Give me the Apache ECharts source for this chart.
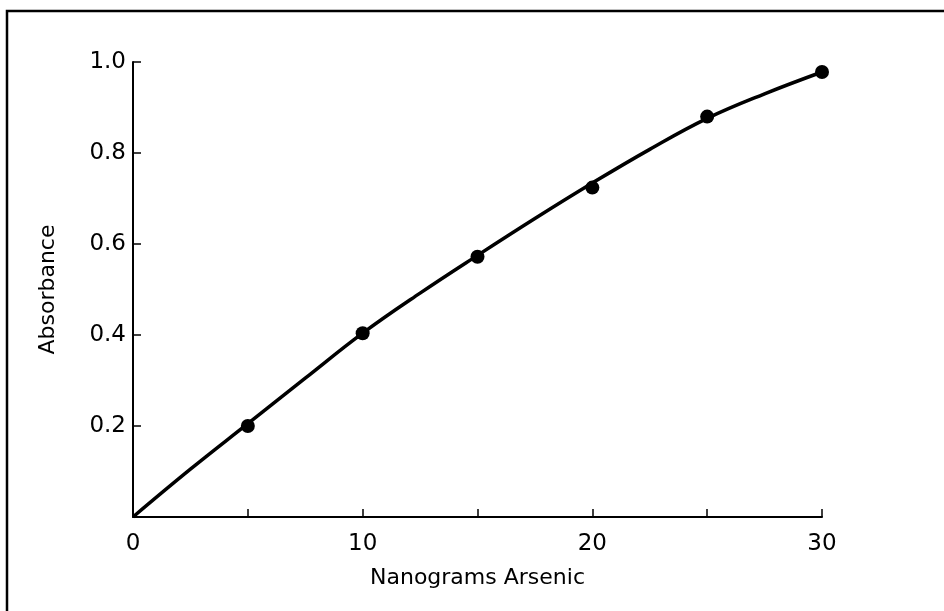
<!DOCTYPE html>
<html>
<head>
<meta charset="utf-8">
<script src="https://cdn.jsdelivr.net/npm/echarts@6/dist/echarts.min.js"></script>
<style>
html,body{margin:0;padding:0;background:#fff;}
#c{width:944px;height:611px;}
</style>
</head>
<body>
<div id="c"></div>
<script>
// Measured points (nanograms arsenic, absorbance)
const pointX = [5, 10, 15, 20, 25, 30];
const pointY = [0.200, 0.404, 0.572, 0.724, 0.880, 0.978];
// Fitted calibration curve
const curveX = [0, 2.5, 5, 7.5, 10, 12.5, 15, 17.5, 20, 22.5, 25, 27.5, 30];
const curveY = [0, 0.105, 0.205, 0.305, 0.404, 0.492, 0.575, 0.656, 0.734, 0.808, 0.876, 0.930, 0.978];
const xTicks = [0, 10, 20, 30];
const yTicks = [0.2, 0.4, 0.6, 0.8, 1.0];
const xName = 'Nanograms Arsenic';
const yName = 'Absorbance';

const font = 'DejaVu Sans';
const chart = echarts.init(document.getElementById('c'));
chart.setOption({
  animation: false,
  backgroundColor: '#fff',
  graphic: [{
    type: 'rect', shape: {x: 7, y: 11, width: 1000, height: 700},
    style: {fill: 'none', stroke: '#000', lineWidth: 2.5}, silent: true
  }],
  grid: {left: 133, right: 122, top: 62, bottom: 94},
  xAxis: {
    type: 'value', min: 0, max: 30, interval: 5,
    name: xName, nameLocation: 'middle', nameGap: 50,
    nameTextStyle: {fontFamily: font, fontSize: 22, color: '#000'},
    axisLine: {lineStyle: {color: '#000', width: 2}},
    axisTick: {inside: true, length: 8, lineStyle: {color: '#000', width: 1.5}},
    axisLabel: {
      margin: 16, fontFamily: font, fontSize: 23, color: '#000',
      formatter: v => xTicks.includes(v) ? String(v) : ''
    },
    splitLine: {show: false}
  },
  yAxis: {
    type: 'value', min: 0, max: 1.0, interval: 0.2,
    name: yName, nameLocation: 'middle', nameGap: 74, nameRotate: 90,
    nameTextStyle: {fontFamily: font, fontSize: 22, color: '#000'},
    axisLine: {lineStyle: {color: '#000', width: 2}},
    axisTick: {inside: true, length: 8, lineStyle: {color: '#000', width: 1.5}},
    axisLabel: {
      margin: 7, fontFamily: font, fontSize: 23, color: '#000',
      formatter: v => {
        const t = yTicks.find(k => Math.abs(k - v) < 1e-6);
        return t === undefined ? '' : t.toFixed(1);
      }
    },
    splitLine: {show: false}
  },
  series: [
    {
      type: 'line', data: curveX.map((x, i) => [x, curveY[i]]),
      smooth: 0.4, showSymbol: false, symbol: 'none',
      lineStyle: {color: '#000', width: 3.5}, z: 2
    },
    {
      type: 'scatter', data: pointX.map((x, i) => [x, pointY[i]]),
      symbol: 'circle', symbolSize: 14,
      itemStyle: {color: '#000', opacity: 1}, z: 3
    }
  ]
});
</script>
</body>
</html>
